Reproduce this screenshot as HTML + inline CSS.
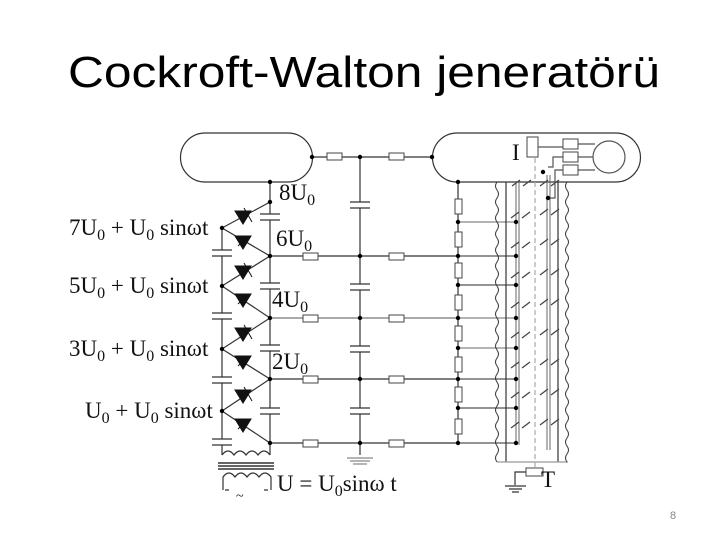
<!DOCTYPE html>
<html><head><meta charset="utf-8"><style>
html,body{margin:0;padding:0;background:#fff;}
svg{display:block}
</style></head><body>
<svg width="720" height="540" viewBox="0 0 720 540" xmlns="http://www.w3.org/2000/svg" font-family="Liberation Serif, serif">
<text x="68" y="87" font-family="Liberation Sans, sans-serif" font-size="44" textLength="592" lengthAdjust="spacingAndGlyphs">Cockroft-Walton jeneratörü</text>
<text x="670" y="519" font-family="Liberation Sans, sans-serif" font-size="11" fill="#888">8</text>

<g stroke="#333" stroke-width="1.2" fill="none">
<path d="M205,133 H288 A24.5,24.5 0 0 1 288,182 H205 A24.5,24.5 0 0 1 205,133 Z"/>
<path d="M457,133 H616 A24.5,24.5 0 0 1 616,182 H457 A24.5,24.5 0 0 1 457,133 Z"/>
<circle cx="609" cy="157" r="16" stroke="#555"/>
<line x1="312" y1="157" x2="432" y2="157"/>
<line x1="270" y1="182" x2="270" y2="455"/>
<line x1="222" y1="228" x2="222" y2="455"/>
<line x1="360" y1="157" x2="360" y2="455"/>
<line x1="270" y1="256" x2="458" y2="256"/>
<line x1="270" y1="318" x2="458" y2="318" stroke="#777"/>
<line x1="270" y1="379" x2="458" y2="379"/>
<line x1="270" y1="443" x2="458" y2="443"/>
<path d="M222,228 L270,202 M222,228 L270,256 M222,286 L270,256 M222,286 L270,318 M222,349 L270,318 M222,349 L270,379 M222,411 L270,379 M222,411 L270,443"/>
<line x1="458" y1="182" x2="458" y2="443"/>
<g stroke="#555">
<line x1="458" y1="222" x2="516" y2="222" stroke="#888"/>
<line x1="458" y1="256" x2="516" y2="256"/>
<line x1="458" y1="285" x2="516" y2="285"/>
<line x1="458" y1="318" x2="516" y2="318" stroke="#888"/>
<line x1="458" y1="348" x2="516" y2="348" stroke="#888"/>
<line x1="458" y1="379" x2="516" y2="379"/>
<line x1="458" y1="408" x2="516" y2="408"/>
<line x1="458" y1="443" x2="516" y2="443"/>
</g>
<line x1="506" y1="182" x2="506" y2="462"/>
<line x1="558" y1="182" x2="558" y2="462"/>
<line x1="497" y1="462" x2="568" y2="462" stroke="#999"/>
<path d="M497,182 q-3,4 0,8 q3,4 0,8 q-3,4 0,8 q3,4 0,8 q-3,4 0,8 q3,4 0,8 q-3,4 0,8 q3,4 0,8 q-3,4 0,8 q3,4 0,8 q-3,4 0,8 q3,4 0,8 q-3,4 0,8 q3,4 0,8 q-3,4 0,8 q3,4 0,8 q-3,4 0,8 q3,4 0,8 q-3,4 0,8 q3,4 0,8 q-3,4 0,8 q3,4 0,8 q-3,4 0,8 q3,4 0,8 q-3,4 0,8 q3,4 0,8 q-3,4 0,8 q3,4 0,8 q-3,4 0,8 q3,4 0,8 q-3,4 0,8 q3,4 0,8 q-3,4 0,8 q3,4 0,8 q-3,4 0,8" stroke-width="1"/>
<path d="M567,182 q-3,4 0,8 q3,4 0,8 q-3,4 0,8 q3,4 0,8 q-3,4 0,8 q3,4 0,8 q-3,4 0,8 q3,4 0,8 q-3,4 0,8 q3,4 0,8 q-3,4 0,8 q3,4 0,8 q-3,4 0,8 q3,4 0,8 q-3,4 0,8 q3,4 0,8 q-3,4 0,8 q3,4 0,8 q-3,4 0,8 q3,4 0,8 q-3,4 0,8 q3,4 0,8 q-3,4 0,8 q3,4 0,8 q-3,4 0,8 q3,4 0,8 q-3,4 0,8 q3,4 0,8 q-3,4 0,8 q3,4 0,8 q-3,4 0,8 q3,4 0,8 q-3,4 0,8 q3,4 0,8 q-3,4 0,8" stroke-width="1"/>
<line x1="535" y1="150" x2="535" y2="470" stroke="#aaa" stroke-dasharray="5,3"/>
<g stroke="#666" stroke-width="1">
<path d="M516,182 V445 M519,182 V445"/>
<path d="M547,175 V450 M550,175 V450"/>
</g>
<g stroke="#444" stroke-width="1.3">
<path d="M512,186 l8,-6 M523,186 l8,-6 M511,218 l8,-6 M522,218 l8,-6 M511,248 l8,-6 M522,248 l8,-6 M511,278 l8,-6 M522,278 l8,-6 M511,308 l8,-6 M522,308 l8,-6 M511,338 l8,-6 M522,338 l8,-6 M511,368 l8,-6 M522,368 l8,-6 M511,398 l8,-6 M522,398 l8,-6 M511,428 l8,-6 M522,428 l8,-6"/>
<path d="M540,186 l8,-6 M551,186 l8,-6 M540,215 l8,-6 M551,215 l8,-6 M540,245 l8,-6 M551,245 l8,-6 M540,275 l8,-6 M551,275 l8,-6 M540,305 l8,-6 M551,305 l8,-6 M540,335 l8,-6 M551,335 l8,-6 M540,365 l8,-6 M551,365 l8,-6 M540,395 l8,-6 M551,395 l8,-6 M540,425 l8,-6 M551,425 l8,-6"/>
</g>
<path d="M538,147 H563 M578,144 H595 M563,157 H553 V167 H548 M578,157 H593 M566,170 H555 V198 H550 M578,170 H595" stroke="#555"/>
<path d="M535,472 H515 V485 M505,486 H526 M509,489 H522 M512,492 H519"/>
<path d="M222,455 q6,-8 12,0 q6,-8 12,0 q6,-8 12,0 q6,-8 12,0" />
<path d="M218,463 H274 M218,466 H274 M218,469 H274" stroke-width="1.5"/>
<path d="M223,490 V477 q6,-8 12,0 q6,-8 12,0 q6,-8 12,0 q6,-8 12,0 V490"/>
<path d="M225,490 H229 M264,490 H268"/>
<path d="M347,458 H373 M350,461 H370 M353,464 H367" stroke="#888"/>
</g>

<g fill="#fff" stroke="none">
<rect x="258" y="214" width="24" height="6"/><rect x="258" y="283" width="24" height="6"/><rect x="258" y="345" width="24" height="6"/><rect x="258" y="408" width="24" height="6"/>
<rect x="210" y="250" width="24" height="6"/><rect x="210" y="313" width="24" height="6"/><rect x="210" y="377" width="24" height="6"/><rect x="210" y="439" width="24" height="6"/>
<rect x="348" y="202" width="24" height="6"/><rect x="348" y="284" width="24" height="6"/><rect x="348" y="346" width="24" height="6"/><rect x="348" y="408" width="24" height="6"/>
</g>
<g stroke="#333" stroke-width="1.3">
<path d="M260,214 H280 M260,220 H280 M260,283 H280 M260,289 H280 M260,345 H280 M260,351 H280 M260,408 H280 M260,414 H280"/>
<path d="M212,250 H232 M212,256 H232 M212,313 H232 M212,319 H232 M212,377 H232 M212,383 H232 M212,439 H232 M212,445 H232"/>
<path d="M350,202 H370 M350,208 H370 M350,284 H370 M350,290 H370 M350,346 H370 M350,352 H370 M350,408 H370 M350,414 H370"/>
</g>

<g fill="#fff" stroke="#444" stroke-width="1">
<rect x="327" y="153" width="15" height="7"/><rect x="389" y="153" width="15" height="7"/>
<rect x="303" y="253" width="15" height="7"/><rect x="389" y="253" width="15" height="7"/>
<rect x="303" y="315" width="15" height="7"/><rect x="389" y="315" width="15" height="7"/>
<rect x="303" y="376" width="15" height="7"/><rect x="389" y="376" width="15" height="7"/>
<rect x="303" y="440" width="15" height="7"/><rect x="389" y="440" width="15" height="7"/>
<rect x="455" y="199" width="7" height="15"/><rect x="455" y="232" width="7" height="15"/><rect x="455" y="263" width="7" height="15"/><rect x="455" y="295" width="7" height="15"/><rect x="455" y="326" width="7" height="15"/><rect x="455" y="357" width="7" height="15"/><rect x="455" y="387" width="7" height="15"/><rect x="455" y="419" width="7" height="15"/>
<rect x="527" y="137" width="11" height="20"/>
<rect x="563" y="139" width="15" height="10"/><rect x="563" y="152" width="15" height="10"/><rect x="563" y="165" width="15" height="10"/>
<rect x="526" y="468" width="17" height="8"/>
</g>

<!-- diodes: triangles pointing down -->
<g fill="#111" stroke="#111" stroke-width="1">
<polygon points="235,211 251,211 243,224"/><line x1="244" y1="208" x2="252" y2="222"/>
<polygon points="235,236 251,236 243,249"/><line x1="238" y1="246" x2="248" y2="236"/>
<polygon points="235,266 251,266 243,279"/><line x1="244" y1="263" x2="252" y2="277"/>
<polygon points="235,294 251,294 243,307"/><line x1="238" y1="304" x2="248" y2="294"/>
<polygon points="235,328 251,328 243,341"/><line x1="244" y1="325" x2="252" y2="339"/>
<polygon points="235,356 251,356 243,369"/><line x1="238" y1="366" x2="248" y2="356"/>
<polygon points="235,390 251,390 243,403"/><line x1="244" y1="387" x2="252" y2="401"/>
<polygon points="235,419 251,419 243,432"/><line x1="238" y1="429" x2="248" y2="419"/>
</g>

<g fill="#000">
<circle cx="270" cy="182" r="2.2"/><circle cx="270" cy="202" r="2.2"/><circle cx="270" cy="256" r="2.2"/><circle cx="270" cy="318" r="2.2"/><circle cx="270" cy="379" r="2.2"/><circle cx="270" cy="443" r="2.2"/>
<circle cx="222" cy="228" r="2.2"/><circle cx="222" cy="286" r="2.2"/><circle cx="222" cy="349" r="2.2"/><circle cx="222" cy="411" r="2.2"/>
<circle cx="312" cy="157" r="2.2"/><circle cx="360" cy="157" r="2.2"/><circle cx="432" cy="157" r="2.2"/>
<circle cx="360" cy="256" r="2.2"/><circle cx="360" cy="318" r="2.2"/><circle cx="360" cy="379" r="2.2"/><circle cx="360" cy="443" r="2.2"/>
<circle cx="458" cy="182" r="2.2"/><circle cx="458" cy="222" r="2.2"/><circle cx="458" cy="256" r="2.2"/><circle cx="458" cy="285" r="2.2"/><circle cx="458" cy="318" r="2.2"/><circle cx="458" cy="348" r="2.2"/><circle cx="458" cy="379" r="2.2"/><circle cx="458" cy="408" r="2.2"/><circle cx="458" cy="443" r="2.2"/>
<circle cx="516" cy="222" r="2.2"/><circle cx="516" cy="256" r="2.2"/><circle cx="516" cy="285" r="2.2"/><circle cx="516" cy="318" r="2.2"/><circle cx="516" cy="348" r="2.2"/><circle cx="516" cy="379" r="2.2"/><circle cx="516" cy="408" r="2.2"/><circle cx="516" cy="443" r="2.2"/>
<circle cx="548" cy="198" r="2.2"/><circle cx="543" cy="172" r="2.2"/>
</g>

<g font-size="23" fill="#111">
<text x="279" y="200">8U<tspan font-size="16" dy="5">0</tspan></text>
<text x="276" y="246">6U<tspan font-size="16" dy="5">0</tspan></text>
<text x="272" y="307">4U<tspan font-size="16" dy="5">0</tspan></text>
<text x="272" y="369">2U<tspan font-size="16" dy="5">0</tspan></text>
<text x="69" y="235">7U<tspan font-size="16" dy="5">0</tspan><tspan dy="-5"> + U</tspan><tspan font-size="16" dy="5">0</tspan><tspan dy="-5"> sinωt</tspan></text>
<text x="69" y="293">5U<tspan font-size="16" dy="5">0</tspan><tspan dy="-5"> + U</tspan><tspan font-size="16" dy="5">0</tspan><tspan dy="-5"> sinωt</tspan></text>
<text x="69" y="356">3U<tspan font-size="16" dy="5">0</tspan><tspan dy="-5"> + U</tspan><tspan font-size="16" dy="5">0</tspan><tspan dy="-5"> sinωt</tspan></text>
<text x="85" y="418">U<tspan font-size="16" dy="5">0</tspan><tspan dy="-5"> + U</tspan><tspan font-size="16" dy="5">0</tspan><tspan dy="-5"> sinωt</tspan></text>
<text x="277" y="491">U = U<tspan font-size="16" dy="5">0</tspan><tspan dy="-5">sinω t</tspan></text>
<text x="512" y="160">I</text>
<text x="541" y="487">T</text>
<text x="236" y="500" font-size="14">~</text>
</g>
</svg>
</body></html>
